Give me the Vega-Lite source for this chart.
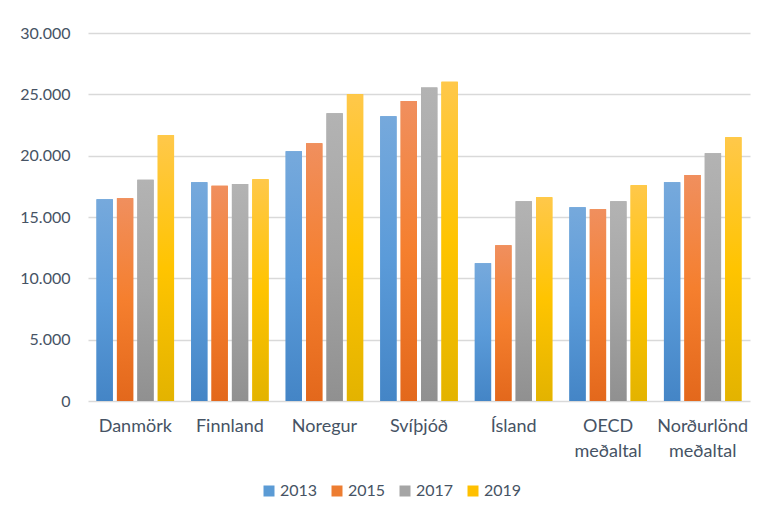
{
  "$schema": "https://vega.github.io/schema/vega-lite/v6.json",
  "width": 662,
  "height": 368,
  "autosize": "none",
  "padding": {"left": 88, "top": 33, "right": 10, "bottom": 112},
  "background": "white",
  "config": {
    "font": "Lato",
    "view": {"stroke": null},
    "axis": {"labelColor": "#465364", "titleColor": "#465364"}
  },
  "data": {
    "values": [
      {"land": "Danmörk", "ar": "2013", "gildi": 16450},
      {"land": "Danmörk", "ar": "2015", "gildi": 16530},
      {"land": "Danmörk", "ar": "2017", "gildi": 18040},
      {"land": "Danmörk", "ar": "2019", "gildi": 21660},
      {"land": "Finnland", "ar": "2013", "gildi": 17830},
      {"land": "Finnland", "ar": "2015", "gildi": 17550},
      {"land": "Finnland", "ar": "2017", "gildi": 17690},
      {"land": "Finnland", "ar": "2019", "gildi": 18070},
      {"land": "Noregur", "ar": "2013", "gildi": 20360},
      {"land": "Noregur", "ar": "2015", "gildi": 21010},
      {"land": "Noregur", "ar": "2017", "gildi": 23450},
      {"land": "Noregur", "ar": "2019", "gildi": 25000},
      {"land": "Svíþjóð", "ar": "2013", "gildi": 23210},
      {"land": "Svíþjóð", "ar": "2015", "gildi": 24460},
      {"land": "Svíþjóð", "ar": "2017", "gildi": 25550},
      {"land": "Svíþjóð", "ar": "2019", "gildi": 26030},
      {"land": "Ísland", "ar": "2013", "gildi": 11230},
      {"land": "Ísland", "ar": "2015", "gildi": 12690},
      {"land": "Ísland", "ar": "2017", "gildi": 16280},
      {"land": "Ísland", "ar": "2019", "gildi": 16610},
      {"land": "OECD|meðaltal", "ar": "2013", "gildi": 15790},
      {"land": "OECD|meðaltal", "ar": "2015", "gildi": 15630},
      {"land": "OECD|meðaltal", "ar": "2017", "gildi": 16280},
      {"land": "OECD|meðaltal", "ar": "2019", "gildi": 17590},
      {"land": "Norðurlönd|meðaltal", "ar": "2013", "gildi": 17830},
      {"land": "Norðurlönd|meðaltal", "ar": "2015", "gildi": 18420},
      {"land": "Norðurlönd|meðaltal", "ar": "2017", "gildi": 20190},
      {"land": "Norðurlönd|meðaltal", "ar": "2019", "gildi": 21500}
    ]
  },
  "encoding": {
    "x": {
      "field": "land",
      "type": "nominal",
      "sort": null,
      "scale": {"paddingInner": 0.18, "paddingOuter": 0.09},
      "axis": {
        "title": null,
        "labelAngle": 0,
        "labelFontSize": 18,
        "labelPadding": 16,
        "labelLineHeight": 25,
        "labelBaseline": "top",
        "ticks": false,
        "domain": false,
        "grid": false,
        "labelOverlap": false,
        "labelExpr": "split(datum.label, '|')"
      }
    },
    "xOffset": {"field": "ar", "type": "nominal", "scale": {"paddingInner": 0.2}},
    "y": {
      "field": "gildi",
      "type": "quantitative",
      "scale": {"domain": [0, 30000]},
      "axis": {
        "title": null,
        "values": [0, 5000, 10000, 15000, 20000, 25000, 30000],
        "labelFontSize": 16,
        "labelPadding": 18,
        "labelOverlap": false,
        "ticks": false,
        "domain": false,
        "gridColor": "#D9D9D9",
        "gridWidth": 1.5,
        "labelExpr": "replace(format(datum.value, ','), /,/g, '.')"
      }
    }
  },
  "layer": [
    {
      "mark": {"type": "bar"},
      "encoding": {
        "color": {
          "field": "ar",
          "type": "nominal",
          "scale": {"domain": ["2013", "2015", "2017", "2019"], "range": ["#5B9BD5", "#ED7D31", "#A5A5A5", "#FFC000"]},
          "legend": {
            "title": null,
            "orient": "none",
            "legendX": 173,
            "legendY": 450,
            "direction": "horizontal",
            "symbolType": "square",
            "symbolSize": 121,
            "symbolStrokeWidth": 0,
            "labelFontSize": 16,
            "labelOffset": 3,
            "labelColor": "#465364",
            "columnPadding": 11
          }
        }
      }
    },
    {
      "transform": [{"filter": "datum.ar == '2013'"}],
      "mark": {"type": "bar", "fill": {"gradient": "linear", "x1": 0, "y1": 0, "x2": 0, "y2": 1, "stops": [{"offset": 0, "color": "#76A9DC"}, {"offset": 0.5, "color": "#5B9BD9"}, {"offset": 1, "color": "#4485C6"}]}},
      "encoding": {}
    },
    {
      "transform": [{"filter": "datum.ar == '2015'"}],
      "mark": {"type": "bar", "fill": {"gradient": "linear", "x1": 0, "y1": 0, "x2": 0, "y2": 1, "stops": [{"offset": 0, "color": "#F08F5E"}, {"offset": 0.5, "color": "#F57F2E"}, {"offset": 1, "color": "#E3681C"}]}},
      "encoding": {}
    },
    {
      "transform": [{"filter": "datum.ar == '2017'"}],
      "mark": {"type": "bar", "fill": {"gradient": "linear", "x1": 0, "y1": 0, "x2": 0, "y2": 1, "stops": [{"offset": 0, "color": "#B3B3B3"}, {"offset": 0.5, "color": "#A5A5A5"}, {"offset": 1, "color": "#909090"}]}},
      "encoding": {}
    },
    {
      "transform": [{"filter": "datum.ar == '2019'"}],
      "mark": {"type": "bar", "fill": {"gradient": "linear", "x1": 0, "y1": 0, "x2": 0, "y2": 1, "stops": [{"offset": 0, "color": "#FFC84A"}, {"offset": 0.5, "color": "#FFC400"}, {"offset": 1, "color": "#E3B300"}]}},
      "encoding": {}
    }
  ]
}
